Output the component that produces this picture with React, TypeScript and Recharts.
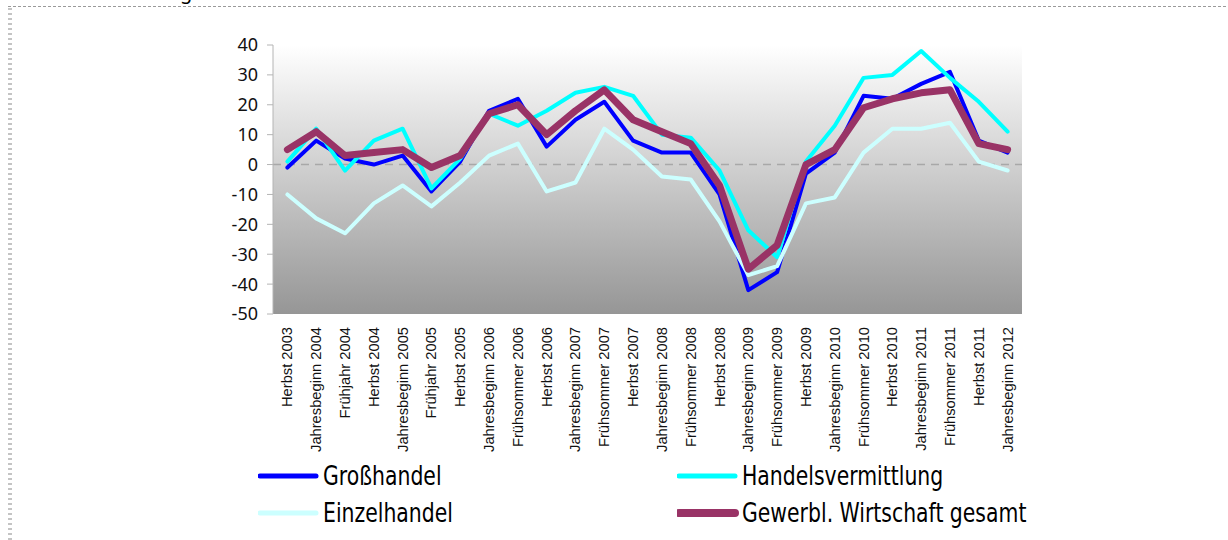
import { LineChart, Line, XAxis, YAxis, CartesianGrid, ReferenceLine } from 'recharts';

const CATEGORIES = [
  'Herbst 2003', 'Jahresbeginn 2004', 'Frühjahr 2004', 'Herbst 2004', 'Jahresbeginn 2005',
  'Frühjahr 2005', 'Herbst 2005', 'Jahresbeginn 2006', 'Frühsommer 2006', 'Herbst 2006',
  'Jahresbeginn 2007', 'Frühsommer 2007', 'Herbst 2007', 'Jahresbeginn 2008', 'Frühsommer 2008',
  'Herbst 2008', 'Jahresbeginn 2009', 'Frühsommer 2009', 'Herbst 2009', 'Jahresbeginn 2010',
  'Frühsommer 2010', 'Herbst 2010', 'Jahresbeginn 2011', 'Frühsommer 2011', 'Herbst 2011',
  'Jahresbeginn 2012',
];

const GROSSHANDEL = [-1, 8, 2, 0, 3, -9, 1, 18, 22, 6, 15, 21, 8, 4, 4, -10, -42, -36, -3, 4, 23, 22, 27, 31, 8, 4];
const HANDELSVERMITTLUNG = [1, 12, -2, 8, 12, -8, 2, 17, 13, 18, 24, 26, 23, 10, 9, -2, -22, -31, 1, 13, 29, 30, 38, 29, 21, 11];
const EINZELHANDEL = [-10, -18, -23, -13, -7, -14, -6, 3, 7, -9, -6, 12, 5, -4, -5, -19, -37, -34, -13, -11, 4, 12, 12, 14, 1, -2];
const GESAMT = [5, 11, 3, 4, 5, -1, 3, 17, 20, 10, 18, 25, 15, 11, 7, -7, -35, -27, 0, 5, 19, 22, 24, 25, 7, 5];

const Y_TICKS = [-50, -40, -30, -20, -10, 0, 10, 20, 30, 40];

const SERIES = [
  { key: 'gross', name: 'Großhandel', color: '#0000ff', width: 4 },
  { key: 'vermittlung', name: 'Handelsvermittlung', color: '#00ffff', width: 4 },
  { key: 'einzel', name: 'Einzelhandel', color: '#ccffff', width: 4 },
  { key: 'gesamt', name: 'Gewerbl. Wirtschaft gesamt', color: '#993366', width: 7 },
];

const data = CATEGORIES.map((name, i) => ({
  name,
  gross: GROSSHANDEL[i],
  vermittlung: HANDELSVERMITTLUNG[i],
  einzel: EINZELHANDEL[i],
  gesamt: GESAMT[i],
}));

const LABEL_TOP = 327;

function CategoryTick({ x, payload }: any) {
  const tx = x + 5;
  return (
    <text
      x={tx}
      y={LABEL_TOP}
      transform={`rotate(-90 ${tx} ${LABEL_TOP})`}
      textAnchor="end"
      style={{ fontFamily: "'Liberation Sans', Arial, sans-serif", fontSize: 14.7 }}
      fill="#111"
    >
      {payload.value}
    </text>
  );
}

// legend positions: two columns, two rows
const LEGEND_POS = [
  { left: 258, top: 476 },
  { left: 677, top: 476 },
  { left: 258, top: 513 },
  { left: 677, top: 513 },
];

function ChartLegend() {
  return (
    <>
      {SERIES.map((s, i) => (
        <div
          key={s.key}
          style={{
            position: 'absolute',
            left: LEGEND_POS[i].left,
            top: LEGEND_POS[i].top - 18,
            height: 36,
            display: 'flex',
            alignItems: 'center',
            whiteSpace: 'nowrap',
          }}
        >
          <svg width={62} height={12} style={{ display: 'block' }}>
            <line x1={2} y1={6} x2={58} y2={6} stroke={s.color} strokeWidth={s.width + 1} strokeLinecap="round" />
          </svg>
          <span
            style={{
              marginLeft: 3,
              fontFamily: "'DejaVu Sans Condensed', 'DejaVu Sans', sans-serif",
              fontSize: 27,
              color: '#000',
              lineHeight: '36px',
              display: 'inline-block',
              transform: 'scaleX(0.84)',
              transformOrigin: 'left center',
            }}
          >
            {s.name}
          </span>
        </div>
      ))}
    </>
  );
}

export default function App() {
  return (
    <div style={{ position: 'fixed', left: 0, top: 0, width: 1228, height: 540, background: '#fff', overflow: 'hidden' }}>
      {/* dotted frame of the embedded chart */}
      <div
        style={{
          position: 'absolute', left: 8, top: 6, right: 0, height: 1,
          background: 'repeating-linear-gradient(to right, #9a9a9a 0 3px, transparent 3px 5px)',
        }}
      />
      <div
        style={{
          position: 'absolute', left: 8, top: 8, bottom: 0, width: 4,
          background: 'repeating-linear-gradient(to bottom, #c4c4c4 0 2px, transparent 2px 5px)',
        }}
      />
      {/* cut-off title above the frame */}
      <div
        style={{
          position: 'absolute', left: 180, top: -18, fontFamily: "'Noto Sans', sans-serif",
          fontSize: 20, lineHeight: '20px', color: '#000',
        }}
      >
        g
      </div>
      <LineChart width={1228} height={540} data={data} margin={{ top: 45, right: 206, bottom: 0, left: 213 }}>
        <defs>
          <linearGradient id="plotBg" x1="0" y1="0" x2="0" y2="1">
            <stop offset="0%" stopColor="#ffffff" />
            <stop offset="100%" stopColor="#969696" />
          </linearGradient>
        </defs>
        <CartesianGrid horizontal={false} vertical={false} fill="url(#plotBg)" stroke="none" />
        <XAxis
          dataKey="name"
          interval={0}
          height={226}
          padding={{ left: 14.4, right: 14.4 }}
          axisLine={false}
          tickLine={false}
          tick={<CategoryTick />}
        />
        <YAxis
          width={60}
          domain={[-50, 40]}
          ticks={Y_TICKS}
          interval={0}
          allowDataOverflow
          stroke="#b4b4b4"
          tickSize={6}
          tickMargin={9}
          tick={{ fill: '#111', fontSize: 18, fontFamily: "'Noto Sans', sans-serif" }}
        />
        <ReferenceLine y={0} stroke="#a8a8a8" strokeWidth={1.5} strokeDasharray="8 6" />
        {SERIES.map((s) => (
          <Line
            key={s.key}
            dataKey={s.key}
            name={s.name}
            stroke={s.color}
            strokeWidth={s.width}
            strokeLinejoin="round"
            strokeLinecap="round"
            dot={false}
            activeDot={false}
            type="linear"
            isAnimationActive={false}
          />
        ))}
      </LineChart>
      <ChartLegend />
    </div>
  );
}
